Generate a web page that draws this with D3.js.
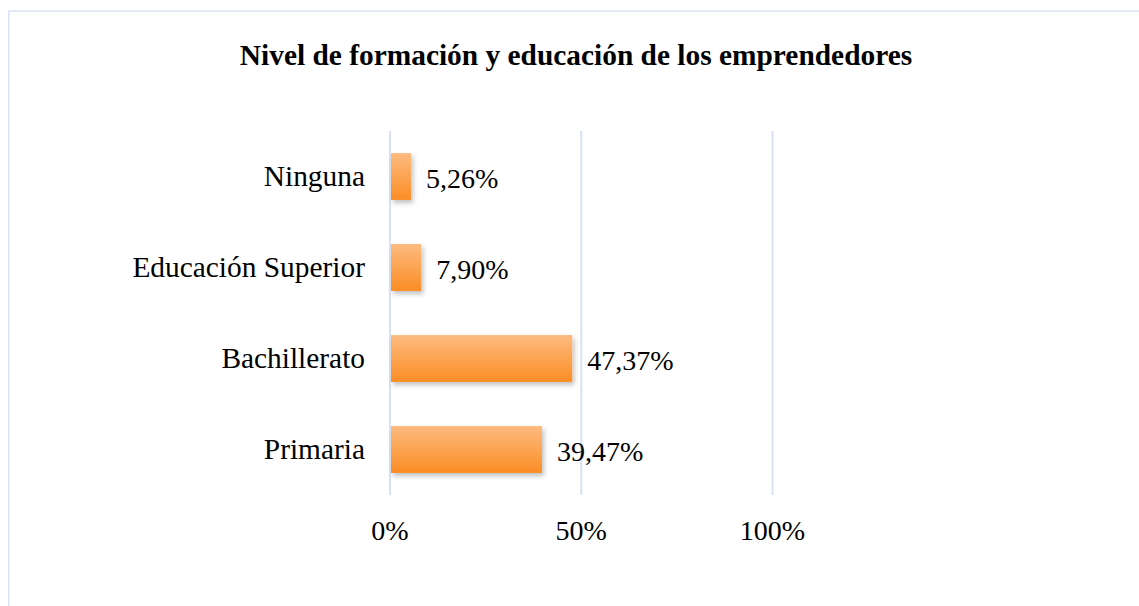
<!DOCTYPE html>
<html><head><meta charset="utf-8">
<script src="https://cdn.jsdelivr.net/npm/d3@7"></script>
<style>body{margin:0;background:#fff}svg{display:block}</style>
</head><body>
<script>
const categories = ["Ninguna", "Educación Superior", "Bachillerato", "Primaria"];
const values = [5.26, 7.90, 47.37, 39.47];
const valueLabels = ["5,26%", "7,90%", "47,37%", "39,47%"];
const ticks = [0, 50, 100];
const tickLabels = ["0%", "50%", "100%"];
const title = "Nivel de formación y educación de los emprendedores";

const W = 1139, H = 606;
const svg = d3.select("body").append("svg").attr("width", W).attr("height", H);
const defs = svg.append("defs");
const grad = defs.append("linearGradient").attr("id","g").attr("x1",0).attr("y1",0).attr("x2",0).attr("y2",1);
grad.append("stop").attr("offset","0%").attr("stop-color","#fdbb7f");
grad.append("stop").attr("offset","100%").attr("stop-color","#fb8d25");
const f = defs.append("filter").attr("id","sh").attr("x","-20%").attr("y","-20%").attr("width","150%").attr("height","160%");
f.append("feDropShadow").attr("dx",2).attr("dy",3).attr("stdDeviation",2.5).attr("flood-color","#000").attr("flood-opacity",0.25);

svg.append("rect").attr("x",8.75).attr("y",11).attr("width",W+20).attr("height",H+20)
  .attr("fill","none").attr("stroke","#dae3f3").attr("stroke-width",1.5);

const font = "'Liberation Serif', 'Times New Roman', serif";
svg.append("text").attr("x",576).attr("y",65).attr("text-anchor","middle")
  .attr("font-family",font).attr("font-weight","bold")
  .attr("font-size",29.4).attr("fill","#000").text(title);

const x = d3.scaleLinear().domain([0,100]).range([390, 772.5]);
const y = d3.scaleBand().domain(categories).range([131, 495]).paddingInner(0.485).paddingOuter(0.2425);

svg.append("g").selectAll("line").data(ticks).join("line")
  .attr("x1", d=>x(d)).attr("x2", d=>x(d)).attr("y1",131).attr("y2",495)
  .attr("stroke","#d9e2f3").attr("stroke-width",2);

svg.append("g").selectAll("rect").data(values).join("rect")
  .attr("x", x(0)+1).attr("y",(d,i)=>y(categories[i]))
  .attr("width", d=>x(d)-x(0)).attr("height", y.bandwidth())
  .attr("fill","url(#g)").attr("filter","url(#sh)");

svg.append("g").selectAll("text").data(categories).join("text")
  .attr("x",365).attr("y",d=>y(d)+y.bandwidth()/2+9).attr("text-anchor","end")
  .attr("font-family",font).attr("font-size",29.4).attr("fill","#000").text(d=>d);

svg.append("g").selectAll("text").data(values).join("text")
  .attr("x",d=>x(d)+16).attr("y",(d,i)=>y(categories[i])+y.bandwidth()/2+11)
  .attr("font-family",font).attr("font-size",28).attr("fill","#000").text((d,i)=>valueLabels[i]);

svg.append("g").selectAll("text").data(ticks).join("text")
  .attr("x",d=>x(d)).attr("y",540).attr("text-anchor","middle")
  .attr("font-family",font).attr("font-size",28).attr("fill","#000").text((d,i)=>tickLabels[i]);
</script>
</body></html>
